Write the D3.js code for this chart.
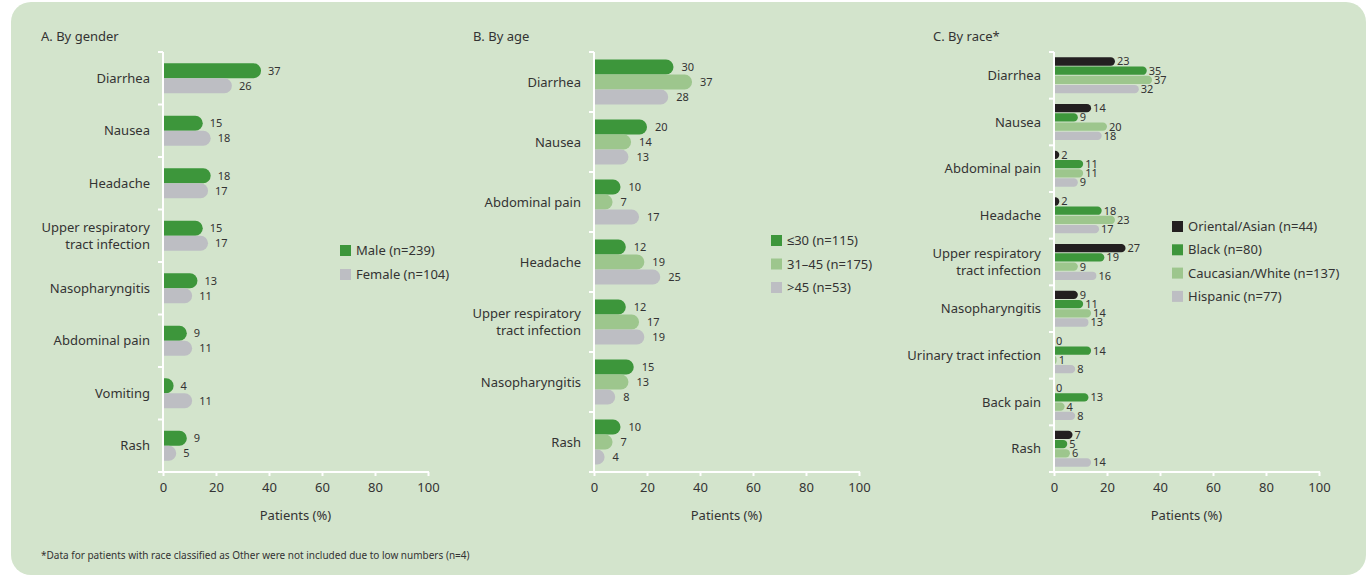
<!DOCTYPE html>
<html><head><meta charset="utf-8">
<script src="https://cdn.jsdelivr.net/npm/d3@7"></script>
<style>
html,body{margin:0;padding:0;background:#fff;}
svg{display:block;font-family:"Noto Sans",sans-serif;}
</style></head>
<body>
<svg id="chart" width="1369" height="577"></svg>
<script>
// ---------- data ----------
const genderCats = ["Diarrhea","Nausea","Headache","Upper respiratory\ntract infection","Nasopharyngitis","Abdominal pain","Vomiting","Rash"];
const maleVals   = [37,15,18,15,13,9,4,9];
const femaleVals = [26,18,17,17,11,11,11,5];
const genderSeries = ["Male (n=239)","Female (n=104)"];

const ageCats = ["Diarrhea","Nausea","Abdominal pain","Headache","Upper respiratory\ntract infection","Nasopharyngitis","Rash"];
const ageLe30   = [30,20,10,12,12,15,10];
const age31to45 = [37,14,7,19,17,13,7];
const ageGt45   = [28,13,17,25,19,8,4];
const ageSeries = ["\u226430 (n=115)","31\u201345 (n=175)",">45 (n=53)"];

const raceCats = ["Diarrhea","Nausea","Abdominal pain","Headache","Upper respiratory\ntract infection","Nasopharyngitis","Urinary tract infection","Back pain","Rash"];
const asianVals    = [23,14,2,2,27,9,0,0,7];
const blackVals    = [35,9,11,18,19,11,14,13,5];
const whiteVals    = [37,20,11,23,9,14,1,4,6];
const hispanicVals = [32,18,9,17,16,13,8,8,14];
const raceSeries = ["Oriental/Asian (n=44)","Black (n=80)","Caucasian/White (n=137)","Hispanic (n=77)"];

const xTicks = [0,20,40,60,80,100];
const xTitle = "Patients (%)";
const footnote = "*Data for patients with race classified as Other were not included due to low numbers (n=4)";

// ---------- style ----------
const C_DARK = "#3d963b", C_LIGHT = "#9dc68d", C_GREY = "#bdbec3", C_BLACK = "#231f20";
const BG = "#d3e4cc", TXT = "#333333";

const svg = d3.select("#chart");
svg.append("rect").attr("x",11).attr("y",2).attr("width",1355).attr("height",573)
  .attr("rx",20).attr("fill",BG);

function barPath(x0, y, w, h){
  if (w <= 0) return "";
  const r = Math.min(h/2, w);
  return `M${x0},${y}H${x0+w-r}A${r},${h/2} 0 0 1 ${x0+w-r},${y+h}H${x0}Z`;
}

function panel(cfg){
  const g = svg.append("g");
  const x = d3.scaleLinear().domain([0,100]).range([cfg.x0, cfg.x0+265]);
  const y = d3.scaleBand().domain(cfg.cats).range([52,472]);
  const inner = d3.scaleBand().domain(d3.range(cfg.series.length))
      .range([-cfg.groupH/2, cfg.groupH/2]).paddingInner(cfg.innerPad);

  // title
  g.append("text").attr("x",cfg.titleX).attr("y",41).attr("font-size",13)
    .attr("fill",TXT).text(cfg.title);

  // bars
  cfg.cats.forEach((c,i)=>{
    const cy = y(c) + y.bandwidth()/2;
    cfg.series.forEach((s,j)=>{
      const v = cfg.values[j][i];
      const by = cy + inner(j);
      const h = inner.bandwidth();
      g.append("path").attr("d", barPath(x(0), by, x(v)-x(0), h)).attr("fill", cfg.colors[j]);
      g.append("text").attr("x", x(v) + cfg.labelGap).attr("y", by + h/2)
        .attr("dy","0.36em").attr("font-size",11).attr("fill",TXT).text(v);
    });
    // category label
    const lines = c.split("\n");
    const t = g.append("text").attr("text-anchor","end").attr("font-size",13).attr("fill",TXT);
    lines.forEach((ln,k)=>{
      t.append("tspan").attr("x", cfg.x0-13)
        .attr("y", cy + (k-(lines.length-1)/2)*17).attr("dy","0.35em").text(ln);
    });
  });

  // axes (white)
  const ax = g.append("g").attr("stroke","#fff").attr("stroke-width",2);
  ax.append("line").attr("x1",x(0)).attr("x2",x(0)).attr("y1",52).attr("y2",473);
  cfg.cats.forEach(c=>{
    ax.append("line").attr("x1",x(0)-5).attr("x2",x(0)).attr("y1",y(c)).attr("y2",y(c));
  });
  ax.append("line").attr("x1",x(0)-5).attr("x2",x(100)+1).attr("y1",472).attr("y2",472);

  const xa = g.append("g").attr("transform","translate(0,472)")
    .call(d3.axisBottom(x).tickValues(xTicks).tickSize(4).tickPadding(7).tickSizeOuter(0));
  xa.select(".domain").remove();
  xa.selectAll(".tick line").attr("stroke","#fff").attr("stroke-width",2);
  xa.selectAll(".tick text").attr("font-size",13).attr("fill",TXT)
    .attr("font-family","Noto Sans, sans-serif");

  g.append("text").attr("x",(x(0)+x(100))/2).attr("y",520).attr("text-anchor","middle")
    .attr("font-size",13).attr("fill",TXT).text(xTitle);

  // legend
  cfg.series.forEach((s,j)=>{
    const ly = cfg.legY + j*cfg.legStep;
    g.append("rect").attr("x",cfg.legX).attr("y",ly).attr("width",11).attr("height",11)
      .attr("fill",cfg.colors[j]);
    g.append("text").attr("x",cfg.legX+16).attr("y",ly+5.5).attr("dy","0.36em")
      .attr("font-size",13).attr("fill",TXT).text(s);
  });
}

panel({title:"A. By gender", titleX:41, x0:163, cats:genderCats, series:genderSeries,
  values:[maleVals,femaleVals], colors:[C_DARK,C_GREY], groupH:30, innerPad:0,
  labelGap:7, legX:340, legY:245, legStep:24});

panel({title:"B. By age", titleX:473, x0:594, cats:ageCats, series:ageSeries,
  values:[ageLe30,age31to45,ageGt45], colors:[C_DARK,C_LIGHT,C_GREY], groupH:45, innerPad:0,
  labelGap:8, legX:771, legY:235, legStep:23.5});

panel({title:"C. By race*", titleX:933, x0:1054, cats:raceCats, series:raceSeries,
  values:[asianVals,blackVals,whiteVals,hispanicVals], colors:[C_BLACK,C_DARK,C_LIGHT,C_GREY],
  groupH:36, innerPad:0.1, labelGap:2, legX:1172, legY:221, legStep:23.3});

svg.append("text").attr("x",41).attr("y",559).attr("font-size",10).attr("fill",TXT).text(footnote);
</script>
</body></html>
